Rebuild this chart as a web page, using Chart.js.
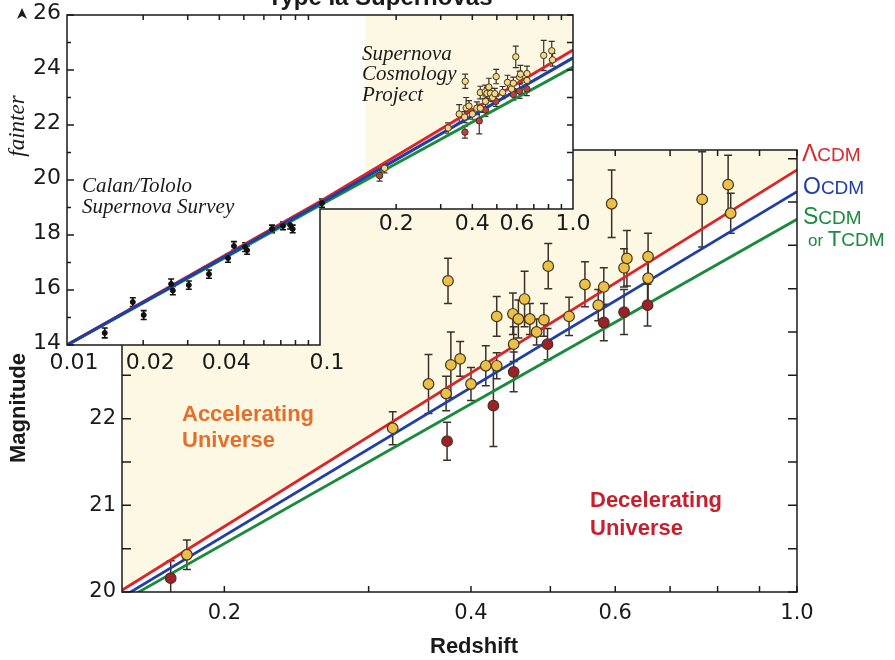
<!DOCTYPE html>
<html>
<head>
<meta charset="utf-8">
<script src="https://cdn.jsdelivr.net/npm/chart.js@4"></script>
<style>
  html, body { margin: 0; padding: 0; background: #fff; }
  #wrap { position: relative; width: 895px; height: 660px; }
  #wrap canvas { position: absolute; left: 0; top: 0; }
</style>
</head>
<body>
<div id="wrap">
  <canvas id="mainChart" width="895" height="660"></canvas>
  <canvas id="insetChart" width="895" height="660"></canvas>
</div>
<script>
// high redshift supernovae (yellow points)
const yellowZ   = [0.180, 0.321, 0.355, 0.373, 0.375, 0.378, 0.388, 0.400, 0.417, 0.430, 0.430, 0.450, 0.451, 0.457, 0.465, 0.472, 0.481, 0.491, 0.497, 0.527, 0.551, 0.572, 0.581, 0.594, 0.615, 0.620, 0.658, 0.658, 0.766, 0.824, 0.830];
const yellowMag = [20.43, 21.89, 22.40, 22.29, 23.59, 22.62, 22.69, 22.40, 22.61, 22.61, 23.18, 23.21, 22.86, 23.15, 23.38, 23.15, 23.00, 23.14, 23.76, 23.18, 23.55, 23.31, 23.52, 24.48, 23.74, 23.85, 23.87, 23.62, 24.53, 24.70, 24.37];
const yellowErr = [0.17, 0.19, 0.34, 0.20, 0.26, 0.38, 0.20, 0.19, 0.23, 0.15, 0.23, 0.24, 0.20, 0.22, 0.32, 0.18, 0.15, 0.19, 0.26, 0.22, 0.26, 0.18, 0.22, 0.39, 0.22, 0.32, 0.27, 0.28, 0.55, 0.34, 0.23];

// dark red points
const redZ   = [0.172, 0.374, 0.426, 0.451, 0.496, 0.581, 0.615, 0.657];
const redMag = [20.16, 21.74, 22.15, 22.54, 22.86, 23.11, 23.23, 23.31];
const redErr = [0.20, 0.22, 0.47, 0.23, 0.18, 0.21, 0.26, 0.24];

// Calan/Tololo low redshift sample (inset)
const ctZ   = [0.0141, 0.0182, 0.0201, 0.0258, 0.0262, 0.0303, 0.0364, 0.0433, 0.0457, 0.0506, 0.0515, 0.0646, 0.0714, 0.0762, 0.0780, 0.1018];
const ctMag = [14.44, 15.56, 15.09, 16.22, 15.98, 16.18, 16.58, 17.16, 17.60, 17.56, 17.45, 18.22, 18.33, 18.36, 18.22, 19.16];
const ctErr = [0.18, 0.16, 0.16, 0.18, 0.15, 0.15, 0.15, 0.15, 0.16, 0.16, 0.15, 0.14, 0.14, 0.14, 0.14, 0.15];

// model curves, main panel
const mainModelZ = [0.15, 1.0];
const lambdaMain = [20.02, 24.87];
const openMain   = [19.94, 24.62];
const flatMain   = [19.89, 24.30];

// model curves, inset
const insetModelZ = [0.01, 0.1, 1.0];
const lambdaInset = [14.0, 19.22, 24.73];
const openInset   = [14.0, 19.15, 24.44];
const flatInset   = [14.0, 19.08, 24.11];

// shaded band of the inset (redshift range of the big panel)
const insetShadeZ   = [0.15, 1.0];
const insetShadeMag = [20.17, 24.73];

// ticks
const mainXTicks  = [0.2, 0.3, 0.4, 0.5, 0.6, 0.7, 0.8, 0.9, 1.0];
const mainXLabels = ['0.2', '', '0.4', '', '0.6', '', '', '', '1.0'];
const mainYTicks  = [20, 21, 22, 23, 24, 25];
const mainYMinor  = [20, 20.5, 21, 21.5, 22, 22.5, 23, 23.5, 24, 24.5, 25];
const insetYTicks = [14, 16, 18, 20, 22, 24, 26];
const insetYMinor = [14, 15, 16, 17, 18, 19, 20, 21, 22, 23, 24, 25, 26];
const insetXLow      = [0.01, 0.02, 0.04, 0.1];
const insetXLowText  = ['0.01', '0.02', '0.04', '0.1'];
const insetXHigh     = [0.2, 0.4, 0.6, 1.0];
const insetXHighText = ['0.2', '0.4', '0.6', '1.0'];
const insetMinorLow  = [0.02, 0.03, 0.04, 0.05, 0.06, 0.07, 0.08, 0.09];
const insetMinorHigh = [0.2, 0.3, 0.4, 0.5, 0.6, 0.7, 0.8, 0.9];

const CREAM = '#fdf8e3';
const YELLOW_FILL = '#e8c04a';
const RED_FILL = '#9e1f2e';
const MARK_EDGE = '#4a3418';
const BAR = '#3a302a';
const C_LAMBDA = '#d8262a';
const C_OPEN = '#1f3ea8';
const C_FLAT = '#1b8a3c';
const AXIS = '#1a1a1a';
const INSET_STEP_MAG = 18.95;   // where the inset frame steps up

function pts(zs, ms) {
    return zs.map((z, i) => ({ x: z, y: ms[i] }));
}

// vertical error bars, drawn under the markers
const errorBars = {
    id: 'errorBars',
    beforeDatasetsDraw(chart) {
        const ctx = chart.ctx, xs = chart.scales.x, ys = chart.scales.y, a = chart.chartArea;
        ctx.save();
        ctx.beginPath();
        ctx.rect(a.left, a.top, a.right - a.left, a.bottom - a.top);
        ctx.clip();
        chart.data.datasets.forEach(ds => {
            if (!ds.errors) return;
            ctx.strokeStyle = ds.errColor;
            ctx.lineWidth = ds.errWidth;
            ds.data.forEach((p, i) => {
                const px = xs.getPixelForValue(p.x);
                const top = ys.getPixelForValue(p.y + ds.errors[i]);
                const bot = ys.getPixelForValue(p.y - ds.errors[i]);
                ctx.beginPath();
                ctx.moveTo(px, top); ctx.lineTo(px, bot);
                ctx.moveTo(px - ds.capW, top); ctx.lineTo(px + ds.capW, top);
                ctx.moveTo(px - ds.capW, bot); ctx.lineTo(px + ds.capW, bot);
                ctx.stroke();
            });
        });
        ctx.restore();
    }
};

function drawParts(ctx, x, y, parts, color) {
    ctx.fillStyle = color;
    ctx.textAlign = 'left';
    ctx.textBaseline = 'alphabetic';
    parts.forEach(p => {
        ctx.font = p[1] + 'px "Liberation Sans", Arial, sans-serif';
        ctx.fillText(p[0], x, y);
        x += ctx.measureText(p[0]).width;
    });
}

const mainDecor = {
    id: 'mainDecor',
    afterDraw(chart) {
        const ctx = chart.ctx, a = chart.chartArea, xs = chart.scales.x, ys = chart.scales.y;
        ctx.save();
        ctx.strokeStyle = AXIS;
        ctx.lineWidth = 1.5;
        ctx.strokeRect(a.left, a.top, a.right - a.left, a.bottom - a.top);
        ctx.beginPath();
        mainXTicks.forEach(v => {
            const px = xs.getPixelForValue(v);
            ctx.moveTo(px, a.bottom); ctx.lineTo(px, a.bottom - 6);
            ctx.moveTo(px, a.top); ctx.lineTo(px, a.top + 6);
        });
        mainYMinor.forEach(v => {
            const py = ys.getPixelForValue(v);
            ctx.moveTo(a.left, py); ctx.lineTo(a.left + 9, py);
            ctx.moveTo(a.right, py); ctx.lineTo(a.right - 9, py);
        });
        ctx.stroke();

        // region labels
        ctx.font = 'bold 22px "Liberation Sans", Arial, sans-serif';
        ctx.textAlign = 'left';
        ctx.fillStyle = '#e36f2c';
        ctx.fillText('Accelerating', 182, 421);
        ctx.fillText('Universe', 182, 447);
        ctx.fillStyle = '#c81f2c';
        ctx.fillText('Decelerating', 590, 507);
        ctx.fillText('Universe', 590, 535);

        // model names
        drawParts(ctx, a.right + 5, 161, [['Λ', 23], ['CDM', 19]], C_LAMBDA);
        drawParts(ctx, a.right + 6, 194, [['O', 23], ['CDM', 19]], C_OPEN);
        drawParts(ctx, a.right + 6, 224, [['S', 23], ['CDM', 19]], C_FLAT);
        drawParts(ctx, a.right + 11, 246, [['or ', 17], ['T', 22], ['CDM', 19]], C_FLAT);

        // axis titles
        ctx.fillStyle = AXIS;
        ctx.font = 'bold 22px "Liberation Sans", Arial, sans-serif';
        ctx.textAlign = 'center';
        ctx.fillText('Redshift', 474, 653);
        ctx.translate(19, 408);
        ctx.rotate(-Math.PI / 2);
        ctx.textBaseline = 'middle';
        ctx.fillText('Magnitude', 0, 0);
        ctx.restore();
    }
};

new Chart(document.getElementById('mainChart'), {
    type: 'line',
    data: {
        datasets: [
            {
                data: pts(yellowZ, yellowMag), errors: yellowErr, errColor: BAR, errWidth: 1.5, capW: 4,
                showLine: false, pointRadius: 5.3, pointBackgroundColor: YELLOW_FILL,
                pointBorderColor: MARK_EDGE, pointBorderWidth: 1.2, order: 0
            },
            {
                data: pts(redZ, redMag), errors: redErr, errColor: BAR, errWidth: 1.5, capW: 4,
                showLine: false, pointRadius: 5.3, pointBackgroundColor: RED_FILL,
                pointBorderColor: MARK_EDGE, pointBorderWidth: 1.2, order: 0
            },
            {
                label: 'ΛCDM', data: pts(mainModelZ, lambdaMain), borderColor: C_LAMBDA, borderWidth: 2.8,
                pointRadius: 0, fill: 'end', backgroundColor: CREAM, order: 3
            },
            {
                label: 'OCDM', data: pts(mainModelZ, openMain), borderColor: C_OPEN, borderWidth: 2.8,
                pointRadius: 0, fill: false, order: 2
            },
            {
                label: 'SCDM', data: pts(mainModelZ, flatMain), borderColor: C_FLAT, borderWidth: 2.8,
                pointRadius: 0, fill: false, order: 1
            }
        ]
    },
    options: {
        responsive: false,
        animation: false,
        events: [],
        layout: { padding: { left: 0, top: 150, right: 98, bottom: 0 } },
        plugins: {
            legend: { display: false },
            tooltip: { enabled: false },
            filler: { drawTime: 'beforeDatasetsDraw' }
        },
        scales: {
            x: {
                type: 'logarithmic', min: 0.15, max: 1.0,
                afterBuildTicks: s => { s.ticks = mainXTicks.map(v => ({ value: v })); },
                afterFit: s => { s.height = 68; },
                grid: { display: false, drawTicks: false },
                border: { display: false },
                ticks: {
                    autoSkip: false, maxRotation: 0, padding: 9, color: AXIS,
                    font: { family: 'DejaVu Sans', size: 21 },
                    callback: (v, i) => mainXLabels[i]
                }
            },
            y: {
                type: 'linear', min: 20, max: 25.1,
                afterBuildTicks: s => { s.ticks = mainYTicks.map(v => ({ value: v })); },
                afterFit: s => { s.width = 122; },
                grid: { display: false, drawTicks: false },
                border: { display: false },
                ticks: {
                    padding: 6, color: AXIS,
                    font: { family: 'DejaVu Sans', size: 21 },
                    callback: v => String(v)
                }
            }
        }
    },
    plugins: [errorBars, mainDecor]
});

// white backing of the inset (L shaped)
const insetBack = {
    id: 'insetBack',
    beforeDraw(chart) {
        const ctx = chart.ctx, a = chart.chartArea;
        const stepX = chart.scales.x.getPixelForValue(0.1);
        const stepY = chart.scales.y.getPixelForValue(INSET_STEP_MAG);
        ctx.save();
        ctx.fillStyle = '#ffffff';
        ctx.beginPath();
        ctx.moveTo(0, 0);
        ctx.lineTo(a.right, 0);
        ctx.lineTo(a.right, stepY);
        ctx.lineTo(stepX, stepY);
        ctx.lineTo(stepX, a.bottom);
        ctx.lineTo(0, a.bottom);
        ctx.closePath();
        ctx.fill();
        ctx.restore();
    }
};

const insetDecor = {
    id: 'insetDecor',
    afterDraw(chart) {
        const ctx = chart.ctx, a = chart.chartArea, xs = chart.scales.x, ys = chart.scales.y;
        const stepX = xs.getPixelForValue(0.1);
        const stepY = ys.getPixelForValue(INSET_STEP_MAG);
        ctx.save();
        ctx.strokeStyle = AXIS;
        ctx.lineWidth = 1.5;
        ctx.beginPath();
        ctx.moveTo(a.left, a.top);
        ctx.lineTo(a.right, a.top);
        ctx.lineTo(a.right, stepY);
        ctx.lineTo(stepX, stepY);
        ctx.lineTo(stepX, a.bottom);
        ctx.lineTo(a.left, a.bottom);
        ctx.closePath();
        ctx.stroke();

        ctx.beginPath();
        insetYMinor.forEach(v => {
            const py = ys.getPixelForValue(v);
            const len = v % 2 === 0 ? 7 : 4;
            ctx.moveTo(a.left, py); ctx.lineTo(a.left + len, py);
            if (py < stepY - 4) { ctx.moveTo(a.right, py); ctx.lineTo(a.right - 6, py); }
        });
        insetMinorLow.forEach(v => {
            const px = xs.getPixelForValue(v);
            ctx.moveTo(px, a.top); ctx.lineTo(px, a.top + 5);
            ctx.moveTo(px, a.bottom); ctx.lineTo(px, a.bottom - 5);
        });
        insetMinorHigh.forEach(v => {
            const px = xs.getPixelForValue(v);
            ctx.moveTo(px, a.top); ctx.lineTo(px, a.top + 5);
            ctx.moveTo(px, stepY); ctx.lineTo(px, stepY - 5);
        });
        ctx.stroke();

        // tick labels
        ctx.fillStyle = AXIS;
        ctx.font = '22px "DejaVu Sans", sans-serif';
        ctx.textAlign = 'right';
        ctx.textBaseline = 'middle';
        insetYTicks.forEach(v => ctx.fillText(String(v), a.left - 6, ys.getPixelForValue(v) - 2));
        ctx.textAlign = 'center';
        ctx.textBaseline = 'top';
        insetXLow.forEach((v, i) => ctx.fillText(insetXLowText[i], xs.getPixelForValue(v) + 7, a.bottom + 7));
        insetXHigh.forEach((v, i) => ctx.fillText(insetXHighText[i], xs.getPixelForValue(v), stepY + 4));

        // title (cut by the top edge of the page)
        ctx.textBaseline = 'alphabetic';
        ctx.font = 'bold 24px "Liberation Sans", Arial, sans-serif';
        ctx.fillText('Type Ia Supernovas', 380, 5);

        // sample names
        ctx.textAlign = 'left';
        ctx.font = 'italic 21px "Liberation Serif", "Times New Roman", serif';
        ctx.fillText('Supernova', 362, 60);
        ctx.fillText('Cosmology', 362, 80);
        ctx.fillText('Project', 362, 101);
        ctx.fillText('Calan/Tololo', 82, 192);
        ctx.fillText('Supernova Survey', 82, 213);

        // "fainter" with arrow
        ctx.beginPath();
        ctx.moveTo(22, 8);
        ctx.lineTo(27, 19);
        ctx.lineTo(22, 16);
        ctx.lineTo(17, 19);
        ctx.closePath();
        ctx.fill();
        ctx.translate(18, 126);
        ctx.rotate(-Math.PI / 2);
        ctx.textAlign = 'center';
        ctx.textBaseline = 'middle';
        ctx.font = 'italic 23px "Liberation Serif", "Times New Roman", serif';
        ctx.fillText('fainter', 0, 0);
        ctx.restore();
    }
};

new Chart(document.getElementById('insetChart'), {
    type: 'line',
    data: {
        datasets: [
            {
                data: pts(ctZ, ctMag), errors: ctErr, errColor: '#111', errWidth: 1.6, capW: 3,
                showLine: false, pointRadius: 2.5, pointBackgroundColor: '#111', pointBorderColor: '#111', order: 0
            },
            {
                data: pts(yellowZ, yellowMag), errors: yellowErr, errColor: BAR, errWidth: 1.2, capW: 3,
                showLine: false, pointRadius: 3.2, pointBackgroundColor: '#f0d98a',
                pointBorderColor: MARK_EDGE, pointBorderWidth: 1, order: 0
            },
            {
                data: pts(redZ, redMag), errors: redErr, errColor: BAR, errWidth: 1.2, capW: 3,
                showLine: false, pointRadius: 3.2, pointBackgroundColor: '#b8404a',
                pointBorderColor: MARK_EDGE, pointBorderWidth: 1, order: 0
            },
            { data: pts(insetModelZ, lambdaInset), borderColor: C_LAMBDA, borderWidth: 3, pointRadius: 0, fill: false, order: 2 },
            { data: pts(insetModelZ, openInset), borderColor: C_OPEN, borderWidth: 3, pointRadius: 0, fill: false, order: 1 },
            { data: pts(insetModelZ, flatInset), borderColor: C_FLAT, borderWidth: 3, pointRadius: 0, fill: false, order: 3 },
            {
                data: pts(insetShadeZ, insetShadeMag), borderColor: 'rgba(0,0,0,0)', borderWidth: 0,
                pointRadius: 0, fill: 'end', backgroundColor: CREAM, order: 4
            }
        ]
    },
    options: {
        responsive: false,
        animation: false,
        events: [],
        layout: { padding: { left: 67, top: 15, right: 322, bottom: 315 } },
        plugins: {
            legend: { display: false },
            tooltip: { enabled: false },
            filler: { drawTime: 'beforeDatasetsDraw' }
        },
        scales: {
            x: { type: 'logarithmic', min: 0.01, max: 1.0, display: false },
            y: { type: 'linear', min: 14, max: 26, display: false }
        }
    },
    plugins: [insetBack, errorBars, insetDecor]
});
</script>
</body>
</html>
